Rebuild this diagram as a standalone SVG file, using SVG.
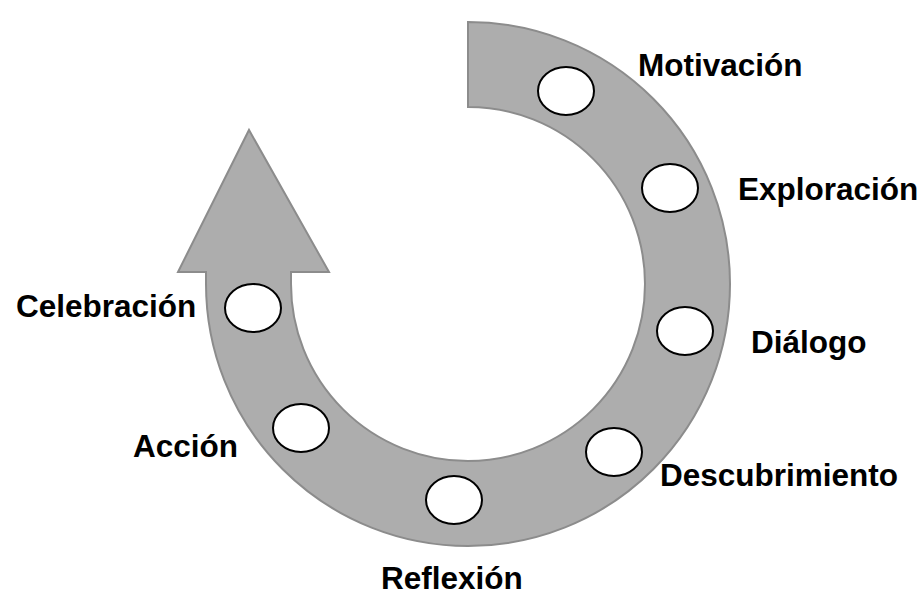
<svg xmlns="http://www.w3.org/2000/svg" width="924" height="598" viewBox="0 0 924 598">
<style>
.band{fill:#adadad;stroke:#8c8c8c;stroke-width:2;stroke-linejoin:miter}
.dot{fill:#ffffff;stroke:#000000;stroke-width:2}
.lbl{font-family:"Liberation Sans",Arial,sans-serif;font-weight:bold;font-size:31.5px;fill:#000000}
</style>
<rect width="924" height="598" fill="#ffffff"/>
<g id="connectors">
<path class="band" d="M 468,22 A 262 262 0 1 1 206,284 L 206,272 L 178,272 L 249,130 L 329,272 L 291,272 L 291,284 A 177 177 0 1 0 468,107 Z"/>
</g>
<g id="motivacion"><ellipse class="dot" cx="566" cy="91" rx="28" ry="24"/><text class="lbl" x="638" y="76">Motivación</text></g>
<g id="exploracion"><ellipse class="dot" cx="670" cy="188" rx="28" ry="24"/><text class="lbl" x="738" y="200">Exploración</text></g>
<g id="dialogo"><ellipse class="dot" cx="685" cy="331" rx="28" ry="24"/><text class="lbl" x="751" y="353">Diálogo</text></g>
<g id="descubrimiento"><ellipse class="dot" cx="614" cy="452" rx="28" ry="24"/><text class="lbl" x="660" y="486">Descubrimiento</text></g>
<g id="reflexion"><ellipse class="dot" cx="454" cy="500" rx="28" ry="24"/><text class="lbl" x="381" y="589">Reflexión</text></g>
<g id="accion"><ellipse class="dot" cx="301" cy="428" rx="28" ry="24"/><text class="lbl" x="133" y="457">Acción</text></g>
<g id="celebracion"><ellipse class="dot" cx="253" cy="308" rx="28" ry="24"/><text class="lbl" x="16" y="317">Celebración</text></g>
</svg>
